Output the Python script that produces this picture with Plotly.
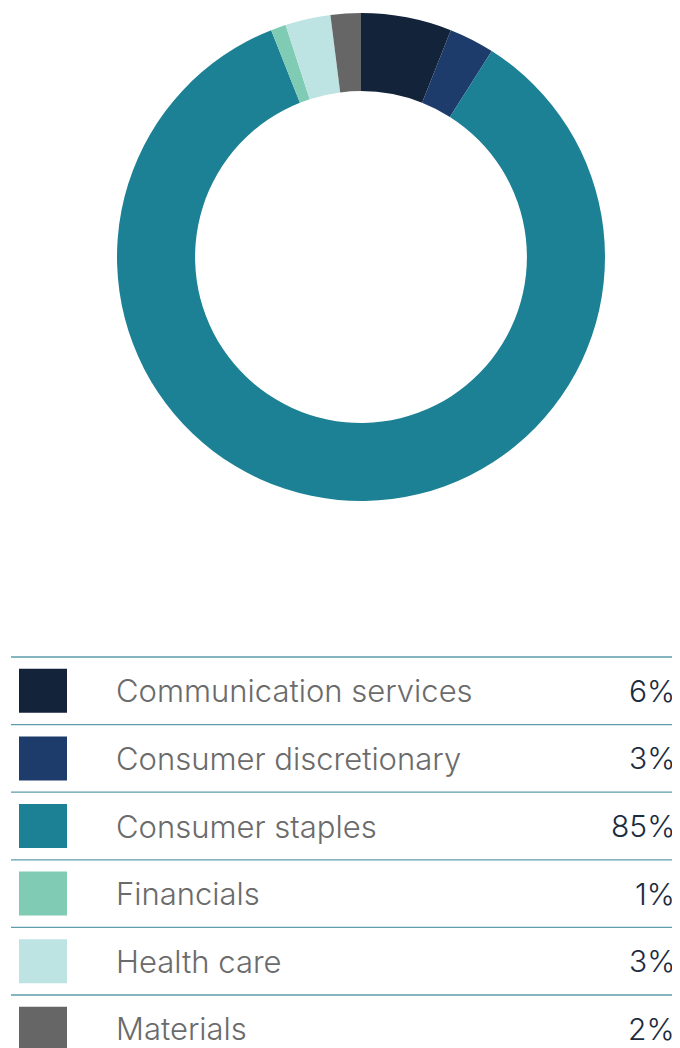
import plotly.graph_objects as go

categories = ["Communication services", "Consumer discretionary", "Consumer staples",
              "Financials", "Health care", "Materials"]
values = [6, 3, 85, 1, 3, 2]
value_labels = ["6%", "3%", "85%", "1%", "3%", "2%"]
colors = ["#13233a", "#1d3c6b", "#1c8194", "#80cbb4", "#bde4e3", "#666666"]

# page body has an 8px default margin, so the figure is drawn 8px in
OFF = 8
W, H = 680 - OFF, 1048 - OFF
ROW_H = 67.6
TABLE_TOP = 657 - OFF  # pixel y of first separator line

fig = go.Figure()

# Donut
cx, cy, r = 361 - OFF, 257 - OFF, 244
fig.add_trace(go.Pie(
    labels=categories, values=values, hole=0.68, sort=False, direction="clockwise",
    rotation=0, marker=dict(colors=colors, line=dict(width=0)),
    textinfo="none", hoverinfo="label+percent", showlegend=False,
    domain=dict(x=[(cx - r) / W, (cx + r) / W], y=[(H - cy - r) / H, (H - cy + r) / H]),
))

dom_top_px = 640 - OFF
y_top = (dom_top_px - TABLE_TOP) / ROW_H
y_bot = (H - TABLE_TOP) / ROW_H
fig.update_layout(
    xaxis=dict(range=[OFF, W + OFF], domain=[0, 1], visible=False, fixedrange=True),
    yaxis=dict(range=[y_bot, y_top], domain=[0, (H - dom_top_px) / H], visible=False, fixedrange=True),
)
fig.add_trace(go.Scatter(x=[OFF, W + OFF], y=[0, 0], mode="markers", marker=dict(opacity=0),
                         hoverinfo="skip", showlegend=False))

FONT = "Inter"
shapes = []
annotations = []
for i, (cat, lab, col) in enumerate(zip(categories, value_labels, colors)):
    shapes.append(dict(type="line", xref="x", yref="y", x0=11, x1=680, y0=i, y1=i,
                       line=dict(color="#5d9eab", width=1.3)))
    shapes.append(dict(type="rect", xref="x", yref="y", x0=19, x1=67,
                       y0=i + 0.5 - 22 / ROW_H, y1=i + 0.5 + 22 / ROW_H,
                       fillcolor=col, line=dict(width=0)))
    annotations.append(dict(xref="x", yref="y", x=114, y=i + 0.5, text=cat, showarrow=False,
                            xanchor="left", yanchor="middle",
                            font=dict(family=FONT, size=31, color="#6b6b6b", weight=300)))
    annotations.append(dict(xref="x", yref="y", x=677, y=i + 0.5, text=lab, showarrow=False,
                            xanchor="right", yanchor="middle",
                            font=dict(family=FONT, size=30, color="#1b2b40", weight=300)))

fig.update_layout(
    width=W, height=H, margin=dict(l=0, r=0, t=0, b=0),
    paper_bgcolor="white", plot_bgcolor="white",
    shapes=shapes, annotations=annotations,
)

fig.write_html("out.html")
